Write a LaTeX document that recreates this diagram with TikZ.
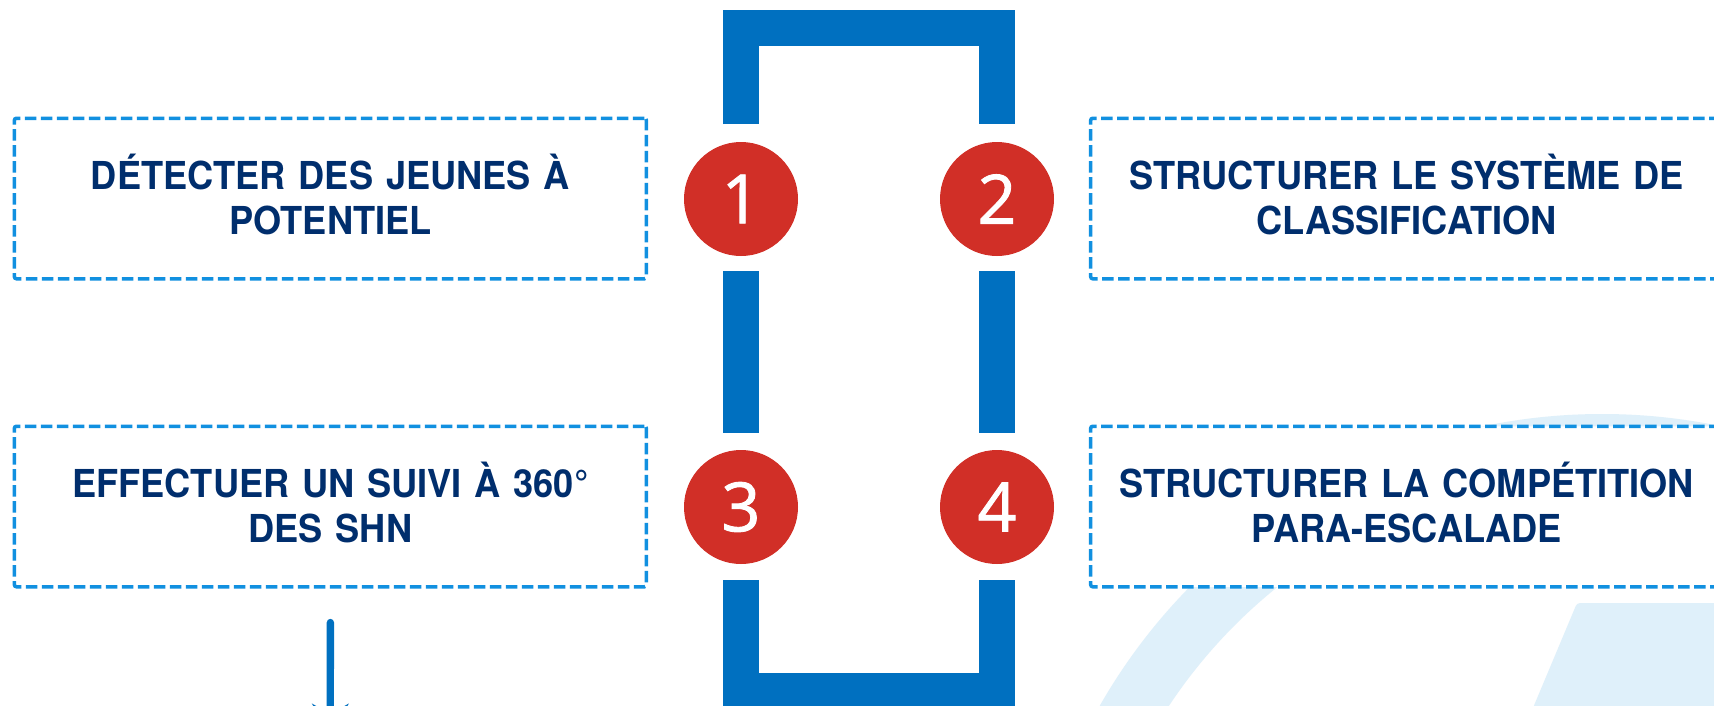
\documentclass[tikz,border=0pt]{standalone}
\usepackage{fontspec}
\newfontfamily\labelfont[FakeStretch=0.94]{TeX Gyre Heros}
\newfontfamily\numfont[FakeBold=1.3]{Open Sans}
\usetikzlibrary{arrows.meta}
\definecolor{barblue}{HTML}{0070C0}
\definecolor{dashblue}{HTML}{1190E0}
\definecolor{navy}{HTML}{002E6D}
\definecolor{badgered}{HTML}{D12F27}
\definecolor{paleblue}{HTML}{DFF0FA}
\begin{document}
\begin{tikzpicture}[x=1pt,y=-1pt,
  stepbox/.style={draw=dashblue, line width=3.5pt, dash pattern=on 11.5pt off 4.5pt,
    rounded corners=2pt, fill=white, minimum width=632pt, minimum height=160.5pt,
    text width=600pt, align=center, text height=27.6pt, text depth=45pt, inner sep=0pt,
    font=\labelfont\bfseries\fontsize{38.5}{45}\selectfont, text=navy},
  badge/.style={circle, fill=badgered, minimum size=114pt, inner sep=0pt, outer sep=0pt,
    text=white, font=\numfont\fontsize{68}{68}\selectfont},
  bar/.style={draw=barblue, line width=36.7pt, line join=miter},
  arrowline/.style={draw=barblue, line width=7.3pt, line cap=round,
    -{Stealth[length=34pt,width=36pt,inset=10pt]}}
]
\useasboundingbox (0,0) rectangle (1714,705);
\clip (0,0) rectangle (1714,705);
\fill[white] (0,0) rectangle (1714,705);
% pale background shapes
\fill[paleblue, even odd rule] (1602,992) circle[radius=578pt] (1602,992) circle[radius=519pt];
\fill[paleblue, rounded corners=3pt] (1577,603) -- (1724,603) -- (1724,715) -- (1530,715) -- cycle;
% boxes
\node[stepbox] (b1) at (330.4,198.5) {DÉTECTER DES JEUNES À\\POTENTIEL};
\node[stepbox] (b2) at (1406.7,198.5) {STRUCTURER LE SYSTÈME DE\\CLASSIFICATION};
\node[stepbox] (b3) at (330.4,506.5) {EFFECTUER UN SUIVI À 360°\\DES SHN};
\node[stepbox] (b4) at (1406.7,506.5) {STRUCTURER LA COMPÉTITION\\PARA-ESCALADE};
% badges
\node[badge] (c1) at (741,199) {1};
\node[badge] (c2) at (997,199) {2};
\node[badge] (c3) at (741,507) {3};
\node[badge] (c4) at (997,507) {4};
% bars
\coordinate (topmid) at (869,28);
\coordinate (botmid) at (869,691);
\draw[bar, shorten <=18pt, shorten >=18pt] (c1.north) |- (topmid) -| (c2.north);
\draw[bar, shorten <=15pt, shorten >=17pt] (c1) -- (c3);
\draw[bar, shorten <=15pt, shorten >=17pt] (c2) -- (c4);
\draw[bar, shorten <=16pt, shorten >=16pt] (c3.south) |- (botmid) -| (c4.south);
% arrow
\coordinate (arrEnd) at (330.3,738);
\draw[arrowline, shorten <=34pt] (b3.south) -- (arrEnd);
\end{tikzpicture}
\end{document}
